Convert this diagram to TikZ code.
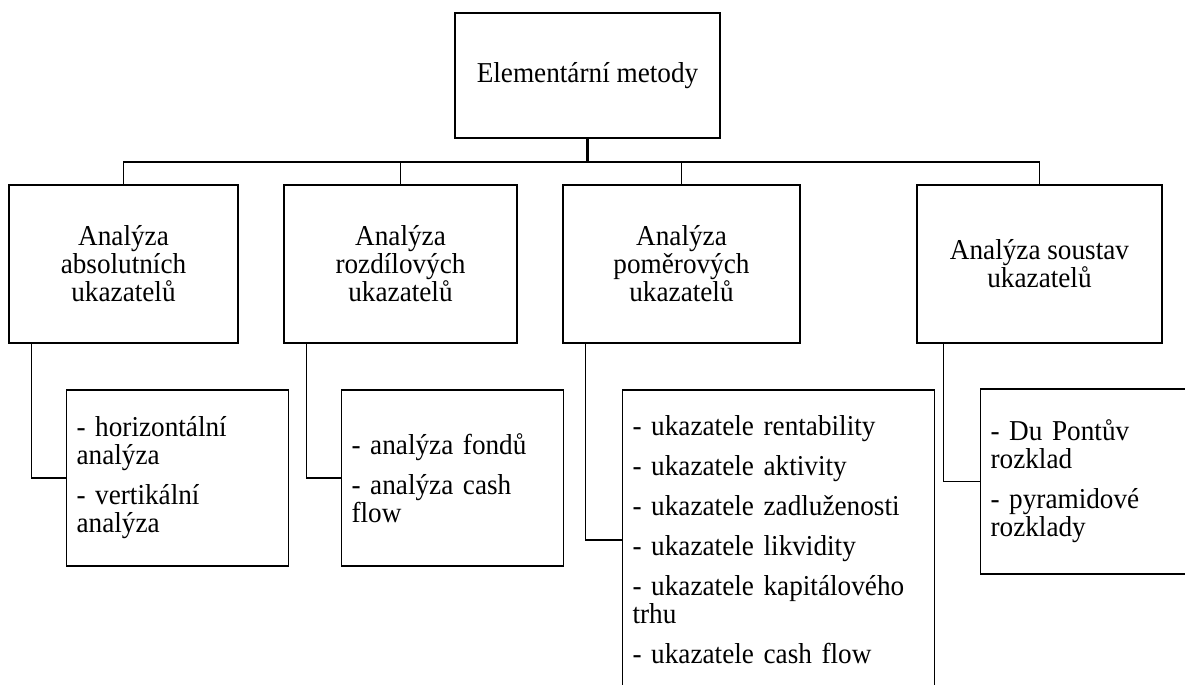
\documentclass[tikz,border=0pt]{standalone}
\usepackage{fontspec}
\setmainfont{Liberation Serif}[FakeStretch=0.945]
\usepackage{tikz}
\usetikzlibrary{positioning,calc}
\tikzset{
  metoda/.style={rectangle,draw,align=center,line width=0.6pt,
    minimum height=79pt,font=\fontsize{14.4}{14}\selectfont},
  seznam/.style={rectangle,draw,align=left,anchor=west,line width=0.6pt,
    inner xsep=5pt,font=\fontsize{14.4}{14}\selectfont},
  spoj/.style={line width=0.6pt},
}

\begin{document}
\begin{tikzpicture}[x=0.5pt,y=-0.5pt]
\useasboundingbox (0,0) rectangle (1185,685);
\clip (0,0) rectangle (1185,685);
\node[metoda,minimum width=132.5pt,minimum height=62.5pt] (root) at (587.5,75.5) {Elementární metody};
\node[metoda,minimum width=114.5pt] (absol) at (123.5,264) {Analýza\\absolutních\\ukazatelů};
\node[metoda,minimum width=116.5pt] (rozd) at (400.5,264) {Analýza\\rozdílových\\ukazatelů};
\node[metoda,minimum width=118.5pt] (pomer) at (681.5,264) {Analýza\\poměrových\\ukazatelů};
\node[metoda,minimum width=122.5pt] (soust) at (1039.5,264) {Analýza soustav\\ukazatelů};
\coordinate (bus) at (587.5,162);

\node[seznam,text width=101pt,minimum height=88pt] (horiz) at (66,478)
  {- horizontální\\analýza\\[6pt]- vertikální\\analýza};
\node[seznam,text width=101pt,minimum height=88pt] (fondy) at (341,478)
  {- analýza fondů\\[6pt]- analýza cash\\flow};
\node[seznam,text width=146pt,minimum height=150pt] (ukaz) at (622,540)
  {- ukazatele rentability\\[6pt]- ukazatele aktivity\\[6pt]- ukazatele zadluženosti\\[6pt]- ukazatele likvidity\\[6pt]- ukazatele kapitálového\\trhu\\[6pt]- ukazatele cash flow};
\node[seznam,text width=101pt,minimum height=92.5pt] (rozkl) at (980,481.5)
  {- Du Pontův\\rozklad\\[6pt]- pyramidové\\rozklady};

\draw[spoj,line width=1.2pt] (root) -- (bus);
\draw[spoj] (absol.north) -- (absol.north |- bus) -- (soust.north |- bus) -- (soust.north);
\draw[spoj] (rozd.north) -- (rozd.north |- bus);
\draw[spoj] (pomer.north) -- (pomer.north |- bus);

\draw[spoj] ($(absol.south west)+(23,0)$) |- (horiz.west);
\draw[spoj] ($(rozd.south west)+(23,0)$) |- (fondy.west);
\draw[spoj] ($(pomer.south west)+(23,0)$) |- (ukaz.west);
\draw[spoj] ($(soust.south west)+(27,0)$) |- (rozkl.west);
\end{tikzpicture}
\end{document}
